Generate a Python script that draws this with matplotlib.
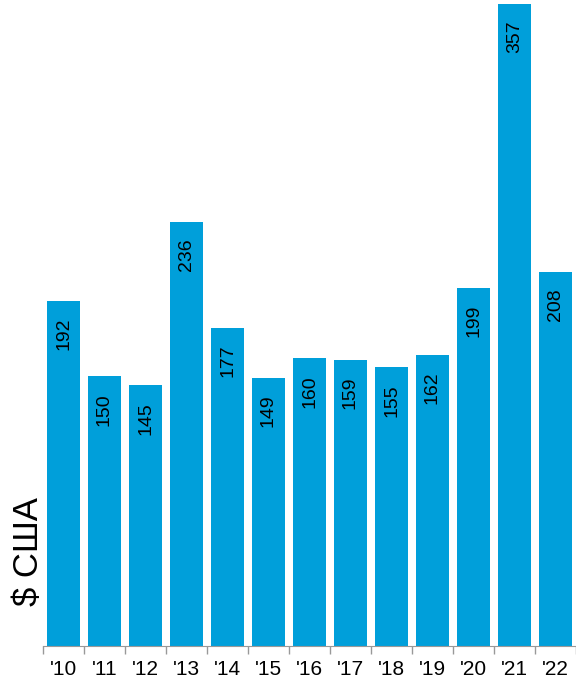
import matplotlib.pyplot as plt
import numpy as np

plt.rcParams['font.family'] = ['Liberation Sans', 'DejaVu Sans']

years = ["'10", "'11", "'12", "'13", "'14", "'15", "'16", "'17", "'18", "'19", "'20", "'21", "'22"]
values = [192, 150, 145, 236, 177, 149, 160, 159, 155, 162, 199, 357, 208]

fig = plt.figure(figsize=(5.76, 6.82), dpi=100)
ax = fig.add_axes([43 / 576, 36 / 682, 1 - 43 / 576, 646 / 682])

x = np.arange(len(years))
bars = ax.bar(x, values, width=0.8, color='#009FDA')

for xi, v in zip(x, values):
    ax.annotate(str(v), (xi, v), xytext=(0, -12), textcoords='offset points',
                rotation=90, ha='center', va='top', fontsize=14, color='black')

ax.set_xlim(-0.5, len(years) - 0.5)
ax.set_ylim(0, 359.3)
ax.set_xticks(x)
ax.set_xticklabels(years, fontsize=15)
ax.set_xticks(np.arange(-0.5, len(years), 1), minor=True)
ax.tick_params(axis='x', which='major', length=0, pad=10)
ax.tick_params(axis='x', which='minor', length=6, color='#999999', width=1)
ax.set_yticks([])
for s in ['top', 'right', 'left']:
    ax.spines[s].set_visible(False)
ax.spines['bottom'].set_color('#999999')

fig.text(0.05, 0.111, '$ США', rotation=90, ha='center', va='bottom', fontsize=25)

fig.savefig('out.png', dpi=100)
